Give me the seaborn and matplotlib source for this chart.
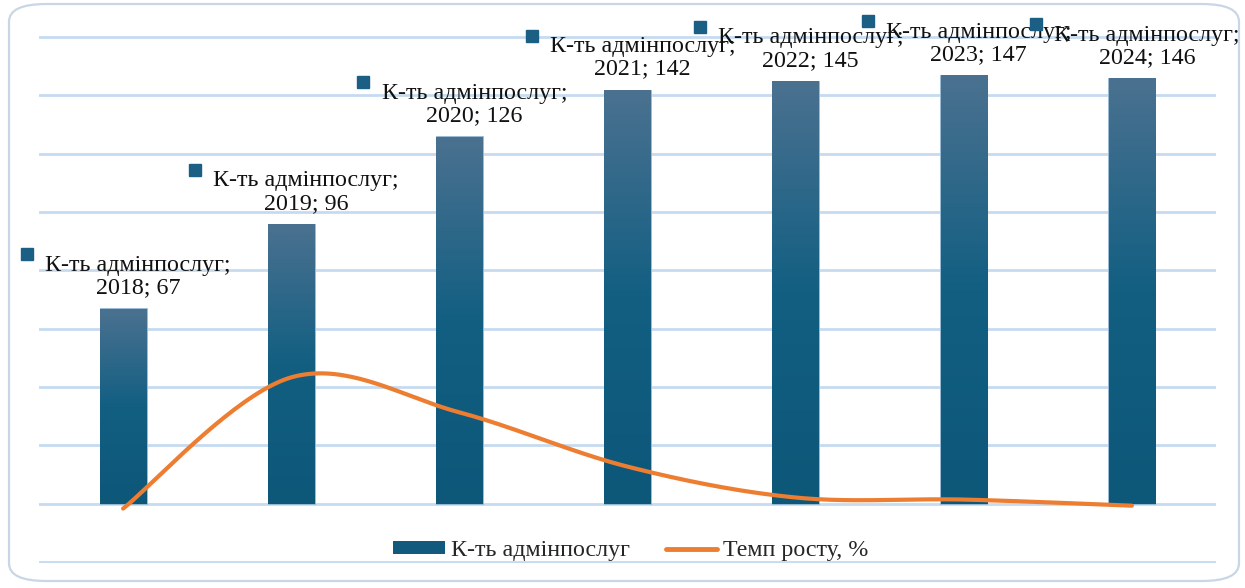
import numpy as np
import pandas as pd
import matplotlib
matplotlib.use("Agg")
import matplotlib.pyplot as plt
import matplotlib.transforms as mtransforms
from matplotlib.patches import FancyBboxPatch, Rectangle
from matplotlib.lines import Line2D
from matplotlib.colors import LinearSegmentedColormap
import seaborn as sns

# data
years = ["2018", "2019", "2020", "2021", "2022", "2023", "2024"]
services = [67, 96, 126, 142, 145, 147, 146]
growth = [-1.7, 43.3, 31.3, 12.7, 2.1, 1.4, -0.7]

bar_name = "К-ть адмінпослуг"
line_name = "Темп росту, %"

sns.set_theme(style="white")
plt.rcParams["font.family"] = ["Liberation Serif", "DejaVu Serif"]

W, H = 1245, 588
fig = plt.figure(figsize=(W / 100, H / 100), dpi=100)
# axes padded by 1px so the outer gridlines are not cut in half
ax = fig.add_axes([39 / W, 1 - 563 / H, 1177 / W, 527 / H])

# rounded chart border
border = FancyBboxPatch((9 / W, 7 / H), 1230 / W, 577 / H,
                        boxstyle="round,pad=0,rounding_size=0.03",
                        transform=fig.transFigure, fill=False,
                        edgecolor="#c9d6e6", lw=1.6, zorder=0)
fig.patches.append(border)

df = pd.DataFrame({"year": years, "count": services})
sns.barplot(data=df, x="year", y="count", ax=ax, width=0.28,
            color="#0f5a7e", saturation=1, zorder=2,
            edgecolor="#9fc0dc", linewidth=0.6)

# vertical gradient on each bar
cmap = LinearSegmentedColormap.from_list(
    "bar", [(0, "#0d5779"), (0.5, "#125f82"), (1, "#4b7190")])
grad = np.linspace(0, 1, 256).reshape(-1, 1)
for p in ax.patches:
    x0, w, h = p.get_x(), p.get_width(), p.get_height()
    ax.imshow(grad, extent=[x0 + 0.002, x0 + w - 0.002, 0, h - 0.2], origin="lower",
              aspect="auto", cmap=cmap, zorder=2.5)


# smoothed line like excel (bezier through points)
def smooth(xs, ys, n=40):
    pts = np.column_stack([xs, ys]).astype(float)
    ext = np.vstack([pts[0], pts, pts[-1]])
    t = np.linspace(0, 1, n)[:, None]
    out = []
    for i in range(len(pts) - 1):
        p0, p3 = ext[i + 1], ext[i + 2]
        c1 = p0 + (ext[i + 2] - ext[i]) / 6
        c2 = p3 - (ext[i + 3] - ext[i + 1]) / 6
        out.append((1 - t) ** 3 * p0 + 3 * (1 - t) ** 2 * t * c1
                   + 3 * (1 - t) * t ** 2 * c2 + t ** 3 * p3)
    return np.vstack(out)


curve = smooth(np.arange(len(years)), growth)
ax.plot(curve[:, 0], curve[:, 1], color="#ed7d31", lw=3,
        solid_capstyle="round", zorder=3)

# data labels
fs = 17.3
mark_tr = mtransforms.offset_copy(ax.transData, fig=fig, x=-96, y=54, units="dots")
for i, (yr, v) in enumerate(zip(years, services)):
    ax.annotate(f"{bar_name};\n{yr}; {v}", xy=(i, v), xytext=(15, 10),
                textcoords="offset pixels", ha="center", va="bottom",
                multialignment="center", fontsize=fs, linespacing=1.08,
                color="#111111", zorder=5)
    ax.plot([i], [v], marker="s", ms=8, color="#1b5f84", transform=mark_tr,
            clip_on=False, zorder=5)

ax.set_xlim(-0.5, len(years) - 0.5)
ax.set_ylim(-20.35, 160.35)
ax.set_yticks(range(-20, 161, 20))
ax.grid(axis="y", color="#c6daf0", lw=2)
ax.set_axisbelow(True)
ax.tick_params(left=False, bottom=False, labelleft=False, labelbottom=False)
ax.set_xlabel("")
ax.set_ylabel("")
sns.despine(ax=ax, left=True, bottom=True)

handles = [Rectangle((0, 0), 1, 1, facecolor="#115a7d", edgecolor="none"),
           Line2D([0], [0], color="#ed7d31", lw=3.5, solid_capstyle="round")]
ax.legend(handles, [bar_name, line_name], loc="center", bbox_to_anchor=(0.503, 0.023),
          ncol=2, frameon=False, fontsize=fs, handlelength=2.15, handleheight=0.45,
          handletextpad=0.25, columnspacing=1.5)

fig.savefig("out.png", dpi=100)
